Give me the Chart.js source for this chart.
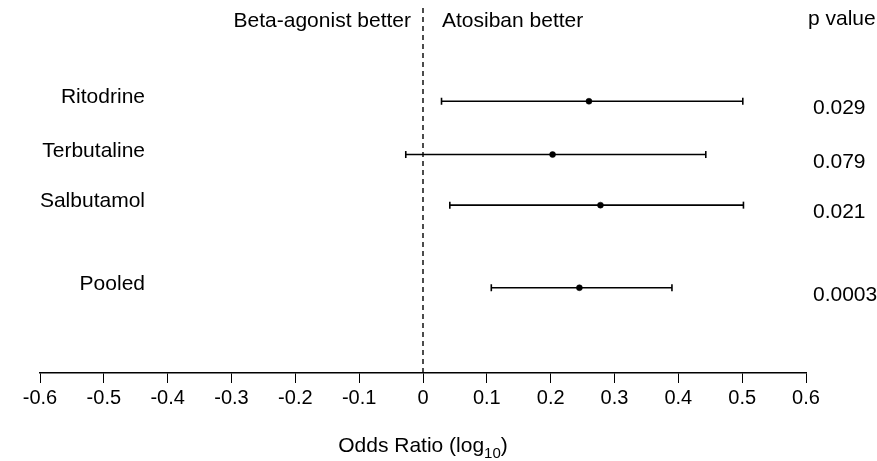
<!DOCTYPE html>
<html lang="en">
<head>
    <meta charset="UTF-8">
    <title>Atosiban vs beta-agonists</title>
    <script src="https://cdn.jsdelivr.net/npm/chart.js"></script>
    <style>
        body { margin: 0; background: #fff; }
    </style>
</head>
<body>
<canvas id="myChart" width="877" height="461"></canvas>

<script>
// values (log10 odds ratio)
const studies = ['Ritodrine', 'Terbutaline', 'Salbutamol', 'Pooled'];
const rowPos = [1, 2, 2.95, 4.5];
const estimates = [0.26, 0.203, 0.278, 0.245];
const lowerCI = [0.029, -0.027, 0.042, 0.107];
const upperCI = [0.501, 0.443, 0.502, 0.39];
const pValues = ['0.029', '0.079', '0.021', '0.0003'];

const xMin = -0.6, xMax = 0.6, xStep = 0.1;
const yTop = -0.75, yBottom = 6.1;

const FONT = '"Liberation Sans", Arial, Helvetica, sans-serif';
Chart.defaults.font.family = FONT;
Chart.defaults.color = '#000';

const datasets = [];

// confidence interval lines with end caps
studies.forEach((name, i) => {
    datasets.push({
        label: name + ' CI',
        data: [{x: lowerCI[i], y: rowPos[i]}, {x: upperCI[i], y: rowPos[i]}],
        showLine: true,
        borderColor: '#000',
        borderWidth: 1.6,
        pointStyle: 'line',
        rotation: 90,
        pointRadius: 3.5,
        pointBorderWidth: 1.6,
        pointBorderColor: '#000'
    });
});

// point estimates
datasets.push({
    label: 'Estimate',
    data: studies.map((s, i) => ({x: estimates[i], y: rowPos[i]})),
    pointStyle: 'circle',
    pointRadius: 3,
    pointBackgroundColor: '#000',
    pointBorderColor: '#000',
    pointBorderWidth: 0.5
});

// line of no effect
datasets.push({
    label: 'zero',
    data: [{x: 0, y: yTop}, {x: 0, y: yBottom}],
    showLine: true,
    borderColor: '#000',
    borderWidth: 1.4,
    borderDash: [5, 4],
    pointRadius: 0
});

const textPlugin = {
    id: 'forestText',
    afterDraw(chart) {
        const ctx = chart.ctx;
        const x = chart.scales.x;
        const y = chart.scales.y;
        const area = chart.chartArea;
        const zero = x.getPixelForValue(0);
        ctx.save();
        ctx.fillStyle = '#000';
        ctx.font = '21px ' + FONT;
        ctx.textBaseline = 'alphabetic';

        // headers
        ctx.textAlign = 'right';
        ctx.fillText('Beta-agonist better', zero - 12, 27);
        ctx.textAlign = 'left';
        ctx.fillText('Atosiban better', zero + 19, 27);
        ctx.fillText('p value', area.right + 2, 25);

        // study names and p values
        studies.forEach((name, i) => {
            const py = y.getPixelForValue(rowPos[i]);
            ctx.textAlign = 'right';
            ctx.fillText(name, area.left + 105, py + 2);
            ctx.textAlign = 'left';
            ctx.fillText(pValues[i], area.right + 7, py + 13);
        });

        // axis title with subscript
        const main = 'Odds Ratio (log';
        const sub = '10';
        const close = ')';
        ctx.font = '21px ' + FONT;
        const wMain = ctx.measureText(main).width;
        const wClose = ctx.measureText(close).width;
        ctx.font = '15px ' + FONT;
        const wSub = ctx.measureText(sub).width;
        const total = wMain + wSub + wClose;
        let tx = (area.left + area.right) / 2 - total / 2;
        const base = 452;
        ctx.textAlign = 'left';
        ctx.font = '21px ' + FONT;
        ctx.fillText(main, tx, base);
        tx += wMain;
        ctx.font = '15px ' + FONT;
        ctx.fillText(sub, tx, base + 6);
        tx += wSub;
        ctx.font = '21px ' + FONT;
        ctx.fillText(close, tx, base);
        ctx.restore();
    }
};

new Chart(document.getElementById('myChart'), {
    type: 'scatter',
    data: { datasets: datasets },
    options: {
        responsive: false,
        animation: false,
        events: [],
        layout: { padding: { left: 40, right: 71, top: 8, bottom: 0 } },
        plugins: {
            legend: { display: false },
            tooltip: { enabled: false }
        },
        scales: {
            x: {
                type: 'linear',
                min: xMin,
                max: xMax,
                afterFit(scale) { scale.height = 88; },
                ticks: {
                    stepSize: xStep,
                    padding: 3,
                    font: { size: 20 },
                    color: '#000',
                    callback: v => String(Number(v.toFixed(1)))
                },
                grid: {
                    drawOnChartArea: false,
                    drawTicks: true,
                    tickLength: 10,
                    color: '#000',
                    lineWidth: 1
                },
                border: { display: true, color: '#000', width: 1.4 }
            },
            y: {
                type: 'linear',
                display: false,
                reverse: true,
                min: yTop,
                max: yBottom
            }
        }
    },
    plugins: [textPlugin]
});
</script>
</body>
</html>
